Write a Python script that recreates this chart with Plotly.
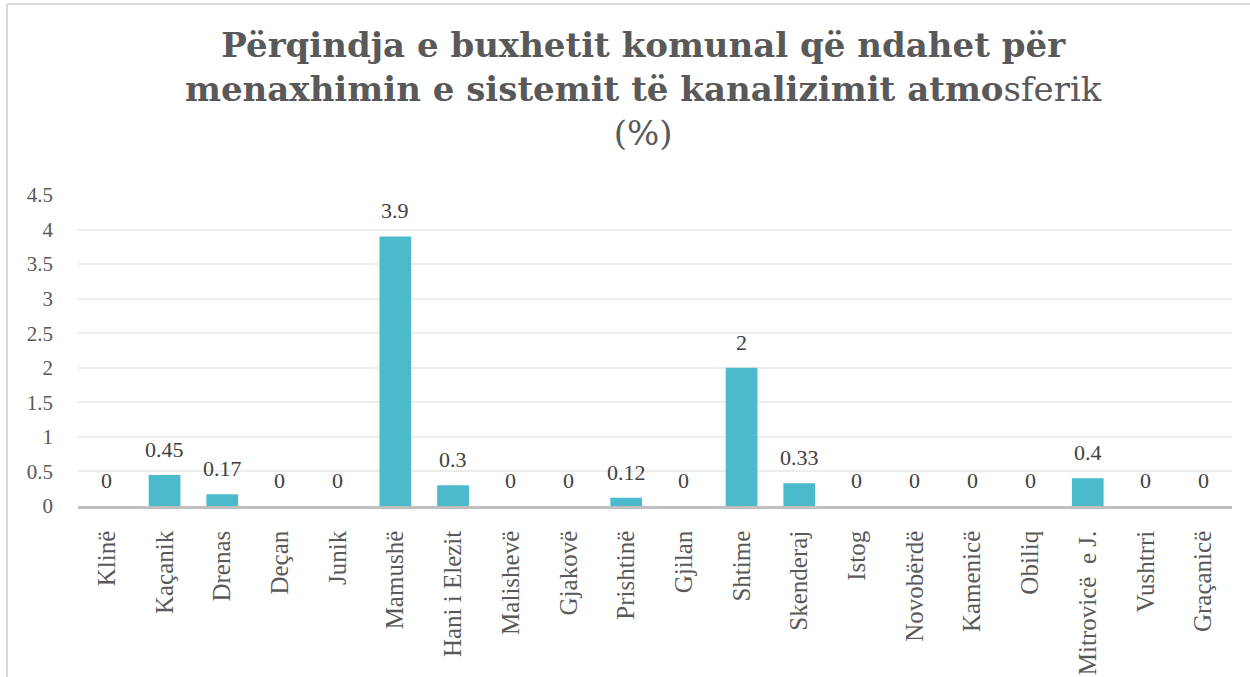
import plotly.graph_objects as go

categories = ["Klinë", "Kaçanik", "Drenas", "Deçan", "Junik", "Mamushë", "Hani i Elezit",
              "Malishevë", "Gjakovë", "Prishtinë", "Gjilan", "Shtime", "Skenderaj", "Istog",
              "Novobërdë", "Kamenicë", "Obiliq", "Mitrovicë  e J.", "Vushtrri", "Graçanicë"]
values = [0, 0.45, 0.17, 0, 0, 3.9, 0.3, 0, 0, 0.12, 0, 2, 0.33, 0, 0, 0, 0, 0.4, 0, 0]
value_labels = ["0", "0.45", "0.17", "0", "0", "3.9", "0.3", "0", "0", "0.12", "0", "2", "0.33",
                "0", "0", "0", "0", "0.4", "0", "0"]
y_ticks = [0, 0.5, 1, 1.5, 2, 2.5, 3, 3.5, 4, 4.5]
y_tick_labels = ["0", "0.5", "1", "1.5", "2", "2.5", "3", "3.5", "4", "4.5"]
title_text = ("<b>Përqindja e buxhetit komunal që ndahet për</b><br>"
              "<b>menaxhimin e sistemit të kanalizimit atmo</b>sferik<br>(%)")

FONT = "Liberation Serif"
TITLE_FONT = "DejaVu Serif"
GRAY = "#595959"

fig = go.Figure()
fig.add_trace(go.Bar(x=categories, y=values, marker=dict(color="#4BBBCC", line=dict(width=0)),
                     hoverinfo="x+y"))

for c, v, t in zip(categories, values, value_labels):
    fig.add_annotation(x=c, y=v, text=t, showarrow=False, yanchor="bottom", yshift=11,
                       font=dict(family=FONT, size=22, color="#404040"))

fig.add_annotation(xref="paper", yref="paper", x=0.49, y=1.34, text=title_text,
                   showarrow=False, xanchor="center", yanchor="middle", align="center",
                   font=dict(family=TITLE_FONT, size=34, color=GRAY))

fig.update_layout(
    width=1250, height=677,
    margin=dict(l=78, r=18, t=195, b=171, autoexpand=False),
    paper_bgcolor="white", plot_bgcolor="white",
    bargap=0.45,
    showlegend=False,
    xaxis=dict(tickangle=-90, tickfont=dict(family=FONT, size=25, color=GRAY),
               showline=True, linecolor="#BFBFBF", linewidth=2.5, ticks="",
               showgrid=False, ticklabelstandoff=12, automargin=False),
    yaxis=dict(range=[0, 4.5], tickvals=y_ticks, ticktext=y_tick_labels,
               tickfont=dict(family=FONT, size=21, color=GRAY),
               showgrid=True, gridcolor="#EDEDED", gridwidth=1.5, zeroline=False,
               showline=False, ticks="", ticklabelstandoff=24, automargin=False),
)

# chart frame border (top and left visible)
fig.add_shape(type="line", xref="paper", yref="paper", x0=-0.0615, x1=1.05, y0=1.614, y1=1.614,
              line=dict(color="#D9D9D9", width=2))
fig.add_shape(type="line", xref="paper", yref="paper", x0=-0.0615, x1=-0.0615, y0=1.614, y1=-0.6,
              line=dict(color="#D9D9D9", width=2))

fig.write_html("out.html", config={"displayModeBar": False},
               post_script="document.body.style.margin='0';")
